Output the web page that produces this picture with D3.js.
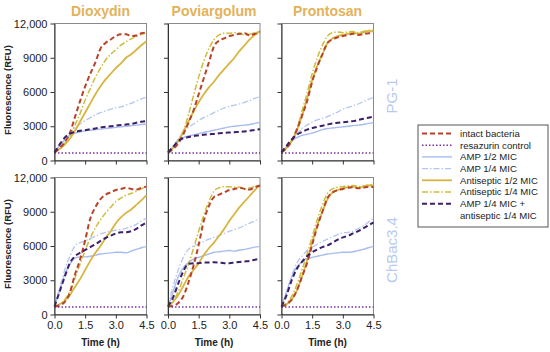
<!DOCTYPE html>
<html>
<head>
<meta charset="utf-8">
<script src="https://cdn.jsdelivr.net/npm/d3@7"></script>
<style>
  body { margin: 0; background: #fff; }
  text { font-family: "Liberation Sans", Arial, sans-serif; }
</style>
</head>
<body>
<div id="chart"></div>
<script>
const width = 550, height = 352;

// time points (h)
const times = [0, 0.25, 0.5, 0.75, 1, 1.25, 1.5, 1.75, 2, 2.25, 2.5, 2.75, 3, 3.25, 3.5, 3.75, 4, 4.25, 4.5];
const antiseptics = ["Dioxydin", "Poviargolum", "Prontosan"];
const peptides = ["PG-1", "ChBac3.4"];
const yTicks = [0, 3000, 6000, 9000, 12000];
const xTicks = [0, 1.5, 3, 4.5];

// each series: one array per panel, order Dioxydin/Poviargolum/Prontosan x PG-1, then ChBac3.4
const intact = [
  [700, 1100, 1600, 2400, 3800, 5200, 6500, 7600, 8600, 9800, 10300, 10600, 10900, 11050, 11050, 10900, 10950, 11150, 11200],
  [700, 1000, 1500, 2300, 3300, 4400, 5800, 7200, 8600, 10000, 10500, 10700, 10900, 11000, 11100, 11150, 10950, 11100, 11300],
  [700, 1100, 1700, 2700, 3900, 5200, 6900, 8200, 9300, 10300, 10600, 10800, 10900, 11000, 11100, 11000, 11050, 11150, 11100],
  [700, 800, 1100, 1900, 3500, 4800, 6500, 8400, 9400, 10100, 10500, 10700, 10900, 11000, 11100, 11000, 10950, 11100, 11200],
  [700, 750, 1000, 1600, 2800, 4300, 6100, 8200, 9500, 10300, 10500, 10700, 10900, 11000, 11100, 11000, 10950, 11150, 11300],
  [700, 900, 1300, 2100, 3300, 4500, 6100, 7700, 9000, 10200, 10700, 10900, 11000, 11100, 11150, 11050, 11100, 11200, 11150]
];
const resazurin = [
  [650, 650, 650, 650, 650, 650, 650, 650, 650, 650, 650, 650, 650, 650, 650, 650, 650, 650, 650],
  [650, 650, 650, 650, 650, 650, 650, 650, 650, 650, 650, 650, 650, 650, 650, 650, 650, 650, 650],
  [650, 650, 650, 650, 650, 650, 650, 650, 650, 650, 650, 650, 650, 650, 650, 650, 650, 650, 650],
  [650, 650, 650, 650, 650, 650, 650, 650, 650, 650, 650, 650, 650, 650, 650, 650, 650, 650, 650],
  [650, 650, 650, 650, 650, 650, 650, 650, 650, 650, 650, 650, 650, 650, 650, 650, 650, 650, 650],
  [650, 650, 650, 650, 650, 650, 650, 650, 650, 650, 650, 650, 650, 650, 650, 650, 650, 650, 650]
];
const amp12 = [
  [700, 1300, 1800, 2200, 2400, 2500, 2600, 2650, 2700, 2750, 2800, 2850, 2900, 2950, 3000, 3050, 3100, 3150, 3200],
  [700, 1200, 1700, 2000, 2150, 2250, 2350, 2450, 2550, 2650, 2750, 2850, 2950, 3000, 3050, 3100, 3150, 3250, 3350],
  [700, 1200, 1700, 2000, 2200, 2300, 2400, 2550, 2700, 2800, 2850, 2900, 2950, 3000, 3050, 3100, 3150, 3250, 3320],
  [700, 2100, 3500, 4400, 4950, 5050, 5050, 5100, 5200, 5300, 5350, 5400, 5450, 5450, 5400, 5550, 5700, 5850, 5950],
  [700, 2000, 3300, 4100, 4550, 4850, 5000, 5150, 5300, 5450, 5500, 5550, 5600, 5550, 5650, 5700, 5800, 5900, 5970],
  [700, 2000, 3300, 4150, 4600, 4900, 5000, 5100, 5200, 5300, 5350, 5400, 5450, 5450, 5500, 5600, 5700, 5850, 5970]
];
const amp14 = [
  [700, 1250, 1800, 2350, 2850, 3200, 3500, 3750, 4000, 4200, 4350, 4500, 4600, 4700, 4850, 5000, 5200, 5400, 5550],
  [700, 1250, 1900, 2500, 2900, 3200, 3500, 3750, 3950, 4200, 4400, 4600, 4750, 4850, 4950, 5100, 5250, 5450, 5590],
  [700, 1200, 1700, 2300, 2800, 3100, 3350, 3550, 3700, 3850, 4050, 4250, 4500, 4650, 4800, 4950, 5150, 5350, 5530],
  [700, 2300, 3900, 5100, 6000, 6300, 6450, 6650, 6850, 7050, 7200, 7300, 7400, 7450, 7550, 7700, 7900, 8200, 8420],
  [700, 2500, 3900, 5000, 5700, 6000, 6200, 6400, 6600, 6750, 6900, 7100, 7300, 7450, 7600, 7800, 8000, 8200, 8420],
  [700, 1900, 3400, 4500, 5100, 5600, 5900, 6150, 6400, 6600, 6800, 7000, 7150, 7200, 7300, 7500, 7750, 8100, 8420]
];
const anti12 = [
  [700, 1000, 1400, 1900, 2600, 3400, 4200, 5000, 5800, 6500, 7100, 7600, 8100, 8500, 9000, 9300, 9700, 10100, 10450],
  [700, 1100, 1700, 2500, 3400, 4300, 5100, 5800, 6400, 6900, 7500, 8000, 8500, 9000, 9600, 10100, 10600, 11000, 11330],
  [700, 1100, 1700, 2600, 3900, 5400, 7000, 8300, 9300, 10300, 10700, 10900, 11000, 11100, 11200, 11100, 11200, 11350, 11300],
  [700, 900, 1200, 1700, 2400, 3100, 3900, 4700, 5400, 6000, 6700, 7300, 8000, 8500, 8900, 9200, 9600, 10000, 10460],
  [700, 1100, 1700, 2500, 3300, 3900, 4500, 5200, 5800, 6300, 6900, 7500, 8200, 8800, 9400, 9900, 10400, 10900, 11330],
  [700, 900, 1300, 2100, 3300, 4700, 6300, 7800, 9000, 10100, 10700, 10900, 11050, 11150, 11200, 11100, 11200, 11300, 11300]
];
const anti14 = [
  [700, 1000, 1500, 2200, 3100, 4100, 5300, 6300, 7300, 8100, 8800, 9300, 9700, 10100, 10400, 10650, 10850, 11050, 11200],
  [700, 1100, 1700, 2600, 4000, 5700, 7300, 8700, 9800, 10600, 11000, 11150, 11150, 11200, 11150, 11000, 11050, 11200, 11300],
  [700, 1100, 1800, 2800, 4300, 5900, 7600, 9000, 10100, 10900, 11200, 11250, 11200, 11250, 11300, 11200, 11300, 11400, 11420],
  [700, 900, 1300, 2000, 3200, 4400, 5600, 6700, 7600, 8300, 8900, 9400, 9900, 10200, 10450, 10600, 10800, 11000, 11210],
  [700, 1200, 2000, 3200, 4400, 5800, 7300, 8700, 9900, 10800, 11100, 11200, 11200, 11150, 11150, 11000, 11100, 11200, 11270],
  [700, 1000, 1600, 2600, 3900, 5300, 6800, 8300, 9600, 10600, 11000, 11150, 11200, 11250, 11300, 11200, 11250, 11350, 11400]
];
const combo = [
  [700, 1400, 2000, 2350, 2500, 2600, 2650, 2750, 2800, 2900, 2950, 3000, 3050, 3100, 3150, 3200, 3300, 3400, 3450],
  [700, 1200, 1700, 1950, 2050, 2150, 2200, 2250, 2300, 2330, 2380, 2420, 2450, 2480, 2500, 2550, 2600, 2680, 2740],
  [700, 1300, 1850, 2250, 2500, 2700, 2850, 2950, 3050, 3150, 3250, 3300, 3350, 3400, 3450, 3550, 3650, 3750, 3840],
  [700, 2000, 3300, 4500, 5100, 5400, 5650, 5900, 6150, 6450, 6700, 6900, 7100, 7200, 7200, 7300, 7500, 7800, 8070],
  [700, 1500, 2700, 3800, 4450, 4500, 4500, 4550, 4550, 4570, 4550, 4500, 4500, 4550, 4600, 4650, 4700, 4800, 4860],
  [700, 1700, 3000, 4000, 4600, 5100, 5450, 5700, 5900, 6050, 6300, 6550, 6750, 6900, 7100, 7300, 7550, 7800, 8070]
];

// styles, drawing order back to front
const series = [
  { label: ["AMP 1/2 MIC"], values: amp12, color: "#a7bcf0", w: 1.4, dash: null },
  { label: ["AMP 1/4 MIC"], values: amp14, color: "#b4c6ef", w: 1.3, dash: "6,2,1.5,2" },
  { label: ["Antiseptic 1/2 MIC"], values: anti12, color: "#d8b53e", w: 1.8, dash: null },
  { label: ["Antiseptic 1/4 MIC"], values: anti14, color: "#cdbd3c", w: 1.5, dash: "6,2,1.5,2" },
  { label: ["intact bacteria"], values: intact, color: "#b8432b", w: 2, dash: "5,3" },
  { label: ["AMP 1/4 MIC +", "antiseptic 1/4 MIC"], values: combo, color: "#3c1f6c", w: 2, dash: "5,3" },
  { label: ["resazurin control"], values: resazurin, color: "#7a2fa3", w: 1.5, dash: "1.5,2" }
];
const legendOrder = [4, 6, 0, 1, 2, 3, 5];

const colX = [54.5, 168, 281.5], panelW = 92;
const rowY = [23.5, 177.5], panelH = 137;

const svg = d3.select("#chart").append("svg")
    .attr("width", width)
    .attr("height", height);

const yFormat = d => d === 12000 ? "12,000" : d;

peptides.forEach((pep, r) => {
    antiseptics.forEach((name, c) => {
        const i = r * 3 + c;
        const x = d3.scaleLinear().domain([0, 4.5]).range([colX[c], colX[c] + panelW]);
        const y = d3.scaleLinear().domain([0, 12000]).range([rowY[r] + panelH, rowY[r]]);

        svg.append("rect")
            .attr("x", x(0)).attr("y", y(12000))
            .attr("width", panelW).attr("height", panelH)
            .attr("fill", "none")
            .attr("stroke", "#8a8a8a");

        const line = d3.line()
            .x((d, k) => x(times[k]))
            .y(d => y(d))
            .curve(d3.curveMonotoneX);

        series.forEach(s => {
            svg.append("path")
                .datum(s.values[i])
                .attr("fill", "none")
                .attr("stroke", s.color)
                .attr("stroke-width", s.w)
                .attr("stroke-dasharray", s.dash)
                .attr("d", line);
        });

        const ya = svg.append("g")
            .attr("transform", `translate(${x(0)},0)`)
            .call(d3.axisLeft(y).tickValues(yTicks).tickSize(4).tickSizeOuter(0)
                .tickFormat(c === 0 ? yFormat : ""));
        const xa = svg.append("g")
            .attr("transform", `translate(0,${y(0)})`)
            .call(d3.axisBottom(x).tickValues(xTicks).tickSize(4).tickSizeOuter(0)
                .tickFormat(r === 1 ? d3.format(".1f") : ""));
        [ya, xa].forEach(a => {
            a.selectAll("path, line").attr("stroke", "#333");
            a.selectAll("text")
                .attr("font-size", 11)
                .attr("fill", "#222")
                .style("font-family", "'Liberation Sans', Arial, sans-serif");
        });

        if (r === 0) {
            svg.append("text")
                .attr("x", x(2.25)).attr("y", 16)
                .attr("text-anchor", "middle")
                .attr("font-size", 14)
                .attr("font-weight", "bold")
                .attr("fill", "#e3b25a")
                .text(name);
        }
        if (r === 1) {
            svg.append("text")
                .attr("x", x(2.25)).attr("y", 346)
                .attr("text-anchor", "middle")
                .attr("font-size", 10)
                .attr("font-weight", "bold")
                .attr("fill", "#222")
                .text("Time (h)");
        }
        if (c === 0) {
            svg.append("text")
                .attr("transform", `translate(11,${y(6000) - 2}) rotate(-90)`)
                .attr("text-anchor", "middle")
                .attr("font-size", 9.5)
                .attr("font-weight", "bold")
                .attr("fill", "#222")
                .text("Fluorescence (RFU)");
        }
    });

    svg.append("text")
        .attr("transform", `translate(397,${rowY[r] + panelH / 2 + 4}) rotate(-90)`)
        .attr("text-anchor", "middle")
        .attr("font-size", 15)
        .attr("fill", "#b8caef")
        .text(pep);
});

// legend
const lg = svg.append("g");
lg.append("rect")
    .attr("x", 418).attr("y", 125)
    .attr("width", 130).attr("height", 102)
    .attr("fill", "#fff")
    .attr("stroke", "#555");

let rowIdx = 0;
legendOrder.forEach(k => {
    const s = series[k];
    const ly = 133.5 + rowIdx * 11.7;
    lg.append("line")
        .attr("x1", 422).attr("x2", 452)
        .attr("y1", ly).attr("y2", ly)
        .attr("stroke", s.color)
        .attr("stroke-width", s.w)
        .attr("stroke-dasharray", s.dash);
    s.label.forEach((t, j) => {
        lg.append("text")
            .attr("x", 460).attr("y", ly + j * 11.7)
            .attr("dy", "0.35em")
            .attr("font-size", 9.6)
            .attr("fill", "#222")
            .text(t);
    });
    rowIdx += s.label.length;
});
</script>
</body>
</html>
